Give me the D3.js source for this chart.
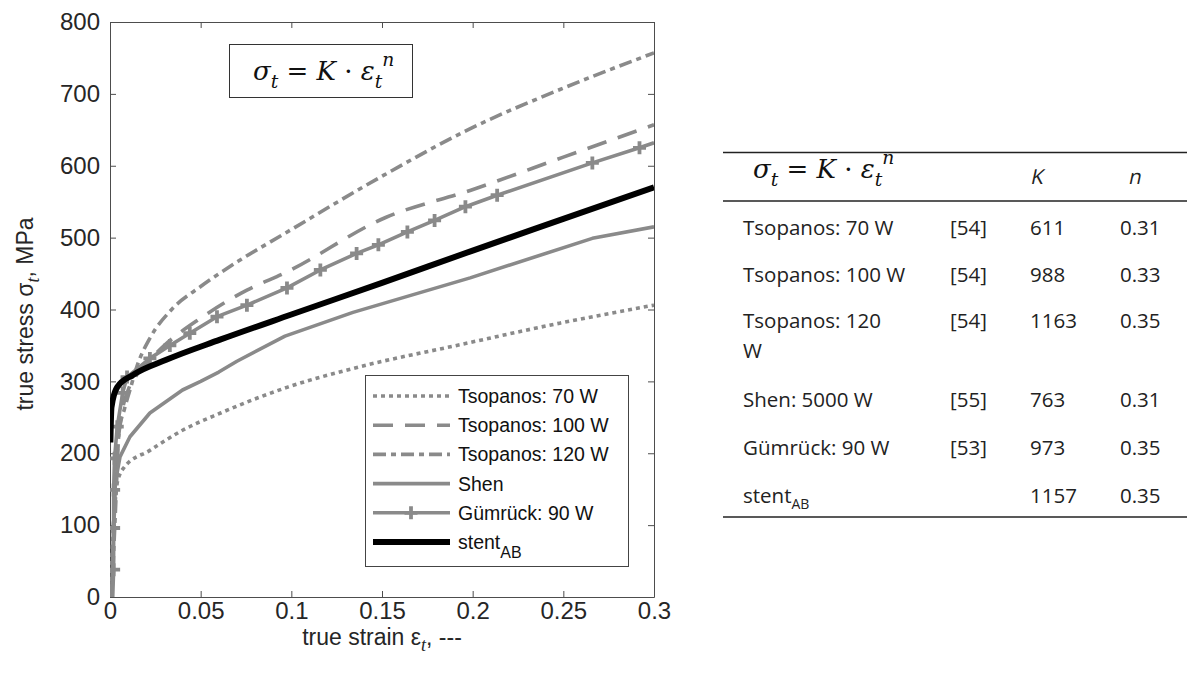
<!DOCTYPE html>
<html lang="en">
<head>
<meta charset="UTF-8">
<title>true stress vs true strain</title>
<script src="https://cdn.jsdelivr.net/npm/d3@7"></script>
<style>
  body { margin: 0; background: #fff; }
  .tick text { font: 24px "Liberation Sans", Arial, sans-serif; fill: #262626; }
  .tick line { stroke: #4d4d4d; }
  .domain { stroke: #4d4d4d; }
  .lbl { font: 23px "Liberation Sans", Arial, sans-serif; fill: #262626; }
  .leg { font: 19.5px "Liberation Sans", Arial, sans-serif; fill: #111; }
  .math { font-family: "DejaVu Serif", "Liberation Serif", serif; font-style: italic; fill: #111; }
  .tbl { font: 20.5px "Open Sans", sans-serif; fill: #222; }
</style>
</head>
<body>
<script>
// axis ticks
const xTicks = [0, 0.05, 0.1, 0.15, 0.2, 0.25, 0.3];
const yTicks = [0, 100, 200, 300, 400, 500, 600, 700, 800];

// curves: [true strain, true stress MPa]
const tsopanos70 = [[0, 0], [0.002, 100], [0.004, 159], [0.008, 181], [0.022, 204], [0.04, 232],
  [0.061, 256], [0.098, 292], [0.134, 318], [0.193, 351], [0.248, 381], [0.3, 406]];
const tsopanos100 = [[0.001, 0], [0.002, 100], [0.004, 200], [0.007, 262], [0.010, 288], [0.015, 310],
  [0.022, 330], [0.03, 350], [0.05, 388], [0.0755, 427], [0.0965, 451], [0.152, 528], [0.199, 566],
  [0.25, 612], [0.3, 657]];
const tsopanos120 = [[0.001, 0], [0.003, 120], [0.005, 230], [0.008, 262], [0.011, 288], [0.015, 322],
  [0.022, 360], [0.034, 400], [0.05, 432], [0.0706, 467], [0.0965, 506], [0.149, 584],
  [0.199, 652], [0.25, 708], [0.3, 757]];
const shen = [[0.001, 0], [0.002, 100], [0.003, 160], [0.0055, 195], [0.011, 223], [0.022, 256],
  [0.04, 288], [0.05, 300], [0.06, 313], [0.07, 328], [0.0965, 363], [0.134, 396], [0.1986, 444],
  [0.266, 499], [0.3, 515]];
const guemrueck = [[0.0015, 0], [0.002, 38], [0.002, 96], [0.002, 149], [0.0025, 193], [0.004, 237],
  [0.007, 284], [0.0094, 306], [0.022, 332], [0.033, 350], [0.044, 367], [0.059, 390], [0.0755, 406],
  [0.0976, 430], [0.116, 455], [0.136, 478], [0.148, 490], [0.164, 508], [0.179, 524], [0.196, 543],
  [0.2135, 559], [0.266, 604], [0.292, 625], [0.3, 632]];
const stentAB = [[0.0002, 215], [0.0008, 264], [0.004, 292], [0.0127, 309], [0.031, 330],
  [0.0607, 358], [0.1, 393], [0.15, 437], [0.2, 482], [0.25, 526], [0.3, 570]];

// table
const tblNames = ["Tsopanos: 70 W", "Tsopanos: 100 W", "Tsopanos: 120\nW", "Shen: 5000 W", "Gümrück: 90 W", "stent"];
const tblRefs = ["[54]", "[54]", "[54]", "[55]", "[53]", ""];
const tblK = [611, 988, 1163, 763, 973, 1157];
const tblN = ["0.31", "0.33", "0.35", "0.31", "0.35", "0.35"];

const gray = "#8a8a8a";
const series = [
  { name: "Tsopanos: 70 W", data: tsopanos70, color: gray, w: 3.6, dash: "4,4" },
  { name: "Tsopanos: 100 W", data: tsopanos100, color: gray, w: 3.6, dash: "20,12" },
  { name: "Tsopanos: 120 W", data: tsopanos120, color: gray, w: 3.6, dash: "13,5,5,5" },
  { name: "Shen", data: shen, color: gray, w: 3.6, dash: null, linear: true },
  { name: "Gümrück: 90 W", data: guemrueck, color: gray, w: 3.6, dash: null, marker: true, linear: true },
  { name: "stent", sub: "AB", data: stentAB, color: "#000", w: 6, dash: null }
];

const W = 1191, H = 679;
const svg = d3.select("body").append("svg").attr("width", W).attr("height", H);

const x = d3.scaleLinear().domain([0, 0.3]).range([110, 654]);
const y = d3.scaleLinear().domain([0, 800]).range([597, 22]);

// axes, ticks pointing inward on all four sides
const xAxisG = svg.append("g").attr("transform", "translate(0,597)")
  .call(d3.axisBottom(x).tickValues(xTicks).tickFormat(d3.format("~g")).tickSize(-6).tickSizeOuter(0).tickPadding(5));
xAxisG.selectAll(".tick text").attr("dy", "0.71em");
svg.append("g").attr("transform", "translate(110,0)")
  .call(d3.axisLeft(y).tickValues(yTicks).tickSize(-6).tickSizeOuter(0).tickPadding(10));
svg.append("g").attr("transform", "translate(0,22)")
  .call(d3.axisTop(x).tickValues(xTicks).tickFormat("").tickSize(-6).tickSizeOuter(0));
svg.append("g").attr("transform", "translate(654,0)")
  .call(d3.axisRight(y).tickValues(yTicks).tickFormat("").tickSize(-6).tickSizeOuter(0));

svg.append("clipPath").attr("id", "plot")
  .append("rect").attr("x", 110).attr("y", 22).attr("width", 544).attr("height", 575);

const plot = svg.append("g").attr("clip-path", "url(#plot)");

series.forEach(s => {
  // measured curves stay as polylines, fitted ones are smoothed
  const line = d3.line().x(d => x(d[0])).y(d => y(d[1]))
    .curve(s.linear ? d3.curveLinear : d3.curveMonotoneX);
  plot.append("path")
    .attr("d", line(s.data))
    .attr("fill", "none")
    .attr("stroke", s.color)
    .attr("stroke-width", s.w)
    .attr("stroke-dasharray", s.dash)
    .attr("stroke-linejoin", "round");
  if (s.marker) {
    plot.selectAll(null).data(s.data.filter(d => d[0] < 0.3 && d[1] > 0)).enter()
      .append("path")
      .attr("d", d => `M${x(d[0]) - 6.5},${y(d[1])}h13M${x(d[0])},${y(d[1]) - 6.5}v13`)
      .attr("stroke", s.color).attr("stroke-width", 3.8);
  }
});

// math formula helper
function formula(t, size) {
  t.attr("font-size", size);
  t.append("tspan").text("σ");
  t.append("tspan").attr("dy", size * 0.3).attr("font-size", size * 0.72).text("t");
  t.append("tspan").attr("dy", -size * 0.3).attr("font-style", "normal").text(" = ");
  t.append("tspan").text("K");
  t.append("tspan").attr("font-style", "normal").text(" · ");
  t.append("tspan").text("ε");
  t.append("tspan").attr("dy", size * 0.3).attr("font-size", size * 0.72).text("t");
  t.append("tspan").attr("dy", -size * 0.82).attr("font-size", size * 0.72).text("n");
}

// formula box in plot
svg.append("rect").attr("x", 229.5).attr("y", 44.5).attr("width", 183).attr("height", 53)
  .attr("fill", "#fff").attr("stroke", "#333");
formula(svg.append("text").attr("class", "math").attr("x", 253).attr("y", 80), 26);

// legend
const lg = svg.append("g");
lg.append("rect").attr("x", 365.5).attr("y", 375.5).attr("width", 263).attr("height", 191)
  .attr("fill", "#fff").attr("stroke", "#444");
series.forEach((s, i) => {
  const yy = 396 + i * 29.2;
  lg.append("line").attr("x1", 373).attr("x2", 450).attr("y1", yy).attr("y2", yy)
    .attr("stroke", s.color).attr("stroke-width", s.w).attr("stroke-dasharray", s.dash);
  if (s.marker) {
    lg.append("path").attr("d", `M${404.5},${yy}h13M${411},${yy - 6.5}v13`)
      .attr("stroke", s.color).attr("stroke-width", 3.8);
  }
  const t = lg.append("text").attr("class", "leg").attr("x", 458).attr("y", yy + 7).text(s.name);
  if (s.sub) t.append("tspan").attr("dy", 9).attr("font-size", 16).text(s.sub);
});

// axis labels
const xl = svg.append("text").attr("class", "lbl").attr("x", 382).attr("y", 645).attr("text-anchor", "middle");
xl.append("tspan").text("true strain ε");
xl.append("tspan").attr("dy", 6).attr("font-size", 18).attr("font-style", "italic")
  .attr("font-family", "Liberation Serif, serif").text("t");
xl.append("tspan").attr("dy", -6).text(", ---");

const yl = svg.append("text").attr("class", "lbl").attr("transform", "translate(33,314) rotate(-90)")
  .attr("text-anchor", "middle");
yl.append("tspan").text("true stress σ");
yl.append("tspan").attr("dy", 6).attr("font-size", 18).attr("font-style", "italic")
  .attr("font-family", "Liberation Serif, serif").text("t");
yl.append("tspan").attr("dy", -6).text(", MPa");

// table on the right
const tb = svg.append("g");
[152.5, 201, 517].forEach(yy => {
  tb.append("line").attr("x1", 723).attr("x2", 1187).attr("y1", yy).attr("y2", yy)
    .attr("stroke", "#222").attr("stroke-width", 1.5);
});
formula(tb.append("text").attr("class", "math").attr("x", 753).attr("y", 178), 26);
tb.append("text").attr("class", "tbl").attr("transform", "translate(1030,184) skewX(-12)")
  .attr("font-size", 22).text("K");
tb.append("text").attr("class", "tbl").attr("transform", "translate(1128,184) skewX(-12)")
  .attr("font-size", 22).text("n");

const rowY = [235, 282, 328, 407, 455, 503];
tblNames.forEach((nm, i) => {
  const t = tb.append("text").attr("class", "tbl").attr("x", 743).attr("y", rowY[i]);
  nm.split("\n").forEach((part, j) => {
    t.append("tspan").attr("x", 743).attr("dy", j ? 30 : 0).text(part);
  });
  if (i === 5) t.append("tspan").attr("dy", 6).attr("font-size", 14).text("AB");
  tb.append("text").attr("class", "tbl").attr("x", 950).attr("y", rowY[i]).text(tblRefs[i]);
  tb.append("text").attr("class", "tbl").attr("x", 1030).attr("y", rowY[i]).text(tblK[i]);
  tb.append("text").attr("class", "tbl").attr("x", 1120).attr("y", rowY[i]).text(tblN[i]);
});
</script>
</body>
</html>
